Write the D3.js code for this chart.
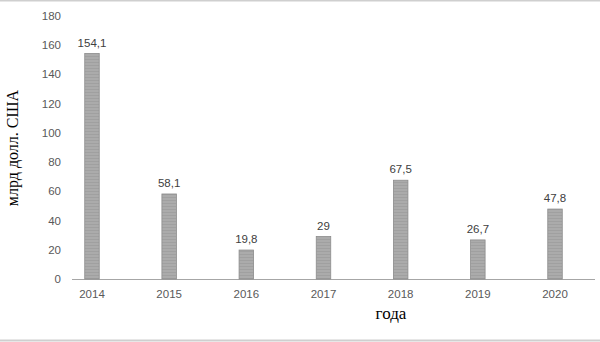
<!DOCTYPE html>
<html>
<head>
<meta charset="utf-8">
<script src="https://cdn.jsdelivr.net/npm/d3@7"></script>
<style>
  html, body { margin: 0; padding: 0; background: #fff; }
  svg { display: block; }
</style>
</head>
<body>
<svg id="chart" width="600" height="342"></svg>
<script>
// Annual values, billions of US dollars
const years = ["2014", "2015", "2016", "2017", "2018", "2019", "2020"];
const values = [154.1, 58.1, 19.8, 29, 67.5, 26.7, 47.8];
const valueLabels = ["154,1", "58,1", "19,8", "29", "67,5", "26,7", "47,8"];
const yTicks = [0, 20, 40, 60, 80, 100, 120, 140, 160, 180];

const svg = d3.select("#chart");
const W = 600, H = 342;

// Outer frame lines (top and bottom)
svg.append("line").attr("x1", 0).attr("x2", W).attr("y1", 0.5).attr("y2", 0.5)
  .attr("stroke", "#cfcfcf").attr("stroke-width", 2);
svg.append("line").attr("x1", 0).attr("x2", W).attr("y1", 340.5).attr("y2", 340.5)
  .attr("stroke", "#cfcfcf").attr("stroke-width", 2);

// Striped fill for the bars
const defs = svg.append("defs");
const pat = defs.append("pattern").attr("id", "stripes")
  .attr("patternUnits", "userSpaceOnUse").attr("width", 4).attr("height", 3);
pat.append("rect").attr("width", 4).attr("height", 3).attr("fill", "#ababab");
pat.append("rect").attr("y", 2).attr("width", 4).attr("height", 1).attr("fill", "#a0a0a0");

const x = d3.scaleBand().domain(years).range([53.4, 593.6]).paddingInner(0).paddingOuter(0);
const y = d3.scaleLinear().domain([0, 180]).range([279, 15.6]);
const barW = 14.5;

// Y axis (labels only)
const yAxis = d3.axisLeft(y).tickValues(yTicks).tickSize(0).tickPadding(0).tickFormat(d3.format("d"));
const gy = svg.append("g").attr("transform", "translate(61,0)").call(yAxis);
gy.select(".domain").remove();
gy.selectAll("text").attr("font-family", "Liberation Sans, Arial, sans-serif")
  .attr("font-size", 11.5).attr("fill", "#595959");

// X axis line and labels
svg.append("line").attr("x1", 72).attr("x2", 595).attr("y1", y(0) + 0.5).attr("y2", y(0) + 0.5)
  .attr("stroke", "#a6a6a6").attr("stroke-width", 1.2);
const xAxis = d3.axisBottom(x).tickSize(0).tickPadding(0);
const gx = svg.append("g").attr("transform", `translate(0,${y(0) + 11})`).call(xAxis);
gx.select(".domain").remove();
gx.selectAll("text").attr("font-family", "Liberation Sans, Arial, sans-serif")
  .attr("font-size", 11.5).attr("fill", "#595959");

// Bars
const data = years.map((yr, i) => ({ yr, v: values[i], label: valueLabels[i] }));
svg.append("g").selectAll("rect").data(data).join("rect")
  .attr("x", d => x(d.yr) + x.bandwidth() / 2 - barW / 2)
  .attr("y", d => y(d.v))
  .attr("width", barW)
  .attr("height", d => y(0) - y(d.v))
  .attr("fill", "url(#stripes)")
  .attr("stroke", "#8c8c8c").attr("stroke-width", 0.8);

// Value labels
svg.append("g").selectAll("text").data(data).join("text")
  .attr("x", d => x(d.yr) + x.bandwidth() / 2)
  .attr("y", d => y(d.v) - 7)
  .attr("text-anchor", "middle")
  .attr("font-family", "Liberation Sans, Arial, sans-serif")
  .attr("font-size", 11.5).attr("fill", "#404040")
  .text(d => d.label);

// Axis titles
svg.append("text")
  .attr("transform", "translate(18,148) rotate(-90)")
  .attr("text-anchor", "middle")
  .attr("font-family", "Liberation Serif, Times New Roman, serif")
  .attr("font-size", 16).attr("fill", "#000")
  .text("млрд долл. США");

svg.append("text")
  .attr("x", 391).attr("y", 319)
  .attr("text-anchor", "middle")
  .attr("font-family", "Liberation Serif, Times New Roman, serif")
  .attr("font-size", 17).attr("fill", "#000")
  .text("года");
</script>
</body>
</html>
